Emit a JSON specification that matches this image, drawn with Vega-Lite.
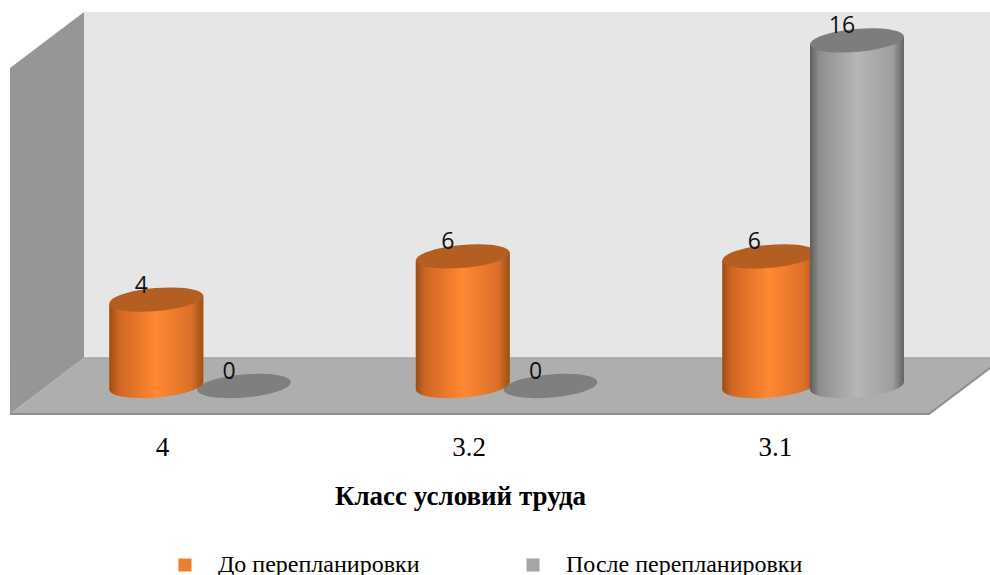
{
"$schema":"https://vega.github.io/schema/vega-lite/v6.json",
"width":990,"height":575,"padding":0,"autosize":{"type":"none"},
"background":"#ffffff",
"config":{"view":{"stroke":null}},
"datasets":{
"rows":[
{"cls":"4","slot":1,"series":"До перепланировки","value":4},
{"cls":"4","slot":1,"series":"После перепланировки","value":0},
{"cls":"3.2","slot":2,"series":"До перепланировки","value":6},
{"cls":"3.2","slot":2,"series":"После перепланировки","value":0},
{"cls":"3.1","slot":3,"series":"До перепланировки","value":6},
{"cls":"3.1","slot":3,"series":"После перепланировки","value":16}
],
"walls":[
{"part":"back","u":0.7455,"v":17.315,"v0":1.296},
{"part":"back","u":3.7015,"v":17.315,"v0":1.296},
{"part":"side","u":0.5041,"v":14.722,"v0":-1.296},
{"part":"side","u":0.7455,"v":17.315,"v0":1.296},
{"part":"floor","u":0.5041,"v":-1.296,"v0":-1.296},
{"part":"floor","u":0.7455,"v":1.296,"v0":-1.296},
{"part":"floor","u":3.5024,"v":1.296,"v0":-1.296},
{"part":"floor","u":3.7015,"v":1.296,"v0":0.833},
{"part":"edge","u":0.5041,"v":-1.296,"v0":-1.296},
{"part":"edge","u":3.5024,"v":-1.296,"v0":-1.296},
{"part":"edge","u":3.7015,"v":0.833,"v0":0.833},
{"part":"rear","u":0.7455,"v":1.296,"v0":1.296},
{"part":"rear","u":3.7015,"v":1.296,"v0":1.296}
]
},
"layer":[
{"data":{"name":"walls"},"transform":[{"filter":"datum.part=='back'"}],
 "mark":{"type":"area","fill":"#e6e6e6"},
 "encoding":{
  "x":{"field":"u","type":"quantitative","scale":{"domain":[0.4714,3.7015],"nice":false,"zero":false},
   "axis":{"values":[1,2,3],"labelExpr":"datum.value==1?'4':datum.value==2?'3.2':'3.1'","orient":"bottom","offset":-149,"domain":false,"ticks":false,"grid":false,"labelFont":"Liberation Serif","labelFontSize":27,"labelColor":"#000000","labelPadding":8,"title":"Класс условий труда","titleFont":"Liberation Serif","titleFontSize":27,"titleFontWeight":"bold","titleColor":"#000000","titleX":460,"titleY":70,"titleBaseline":"middle"}},
  "y":{"field":"v","type":"quantitative","scale":{"domain":[-8.75,17.87],"nice":false,"zero":false},"axis":null},
  "y2":{"field":"v0"}}},
{"data":{"name":"walls"},"transform":[{"filter":"datum.part=='side'"}],
 "mark":{"type":"area","fill":"#969696"},
 "encoding":{"x":{"field":"u","type":"quantitative"},"y":{"field":"v","type":"quantitative"},"y2":{"field":"v0"}}},
{"data":{"name":"walls"},"transform":[{"filter":"datum.part=='floor'"}],
 "mark":{"type":"area","fill":"#aeaeae"},
 "encoding":{"x":{"field":"u","type":"quantitative"},"y":{"field":"v","type":"quantitative"},"y2":{"field":"v0"}}},
{"data":{"name":"walls"},"transform":[{"filter":"datum.part=='edge'"}],
 "mark":{"type":"line","stroke":"#8f8f8f","strokeWidth":2},
 "encoding":{"x":{"field":"u","type":"quantitative"},"y":{"field":"v","type":"quantitative"}}},
{"data":{"name":"walls"},"transform":[{"filter":"datum.part=='rear'"}],
 "mark":{"type":"line","stroke":"#a3a3a3","strokeWidth":1.5},
 "encoding":{"x":{"field":"u","type":"quantitative"},"y":{"field":"v","type":"quantitative"}}},
{"data":{"name":"rows"},"transform":[{"filter":"datum.value==0"},{"calculate":"datum.slot+0.2675","as":"cx"}],
 "mark":{"type":"point","filled":true,"fill":"#7f7f7f","stroke":null,"opacity":1,"size":8836,"shape":"M-0.9962 0.0872C-1.008 -0.0476 -0.5716 -0.196 -0.0214 -0.2441C0.5288 -0.2922 0.9844 -0.222 0.9962 -0.0872C1.008 0.0476 0.5716 0.196 0.0214 0.2441C-0.5288 0.2922 -0.9844 0.222 -0.9962 0.0872Z"},
 "encoding":{"x":{"field":"cx","type":"quantitative"},"y":{"field":"value","type":"quantitative"}}},
{"data":{"name":"rows"},"transform":[{"filter":"datum.value>0"},{"calculate":"datum.slot+(datum.series=='До перепланировки'?-0.0186:0.2675)","as":"cx"},{"calculate":"[-1,1]","as":"side"},{"flatten":["side"]},{"calculate":"datum.cx+datum.side*0.1533","as":"ex"},{"calculate":"datum.value+datum.side*0.19","as":"top"},{"calculate":"datum.side*0.19","as":"base"}],
 "mark":{"type":"area"},
 "encoding":{"x":{"field":"ex","type":"quantitative"},"y":{"field":"top","type":"quantitative"},"y2":{"field":"base"},"detail":{"field":"slot"},
  "color":{"field":"series","type":"nominal","scale":{"domain":["До перепланировки","После перепланировки"],"range":["#ed7d31","#a5a5a5"]},
   "legend":{"title":null,"orient":"none","legendX":173,"legendY":553,"direction":"horizontal","columns":2,"columnPadding":101,"symbolType":"square","symbolSize":170,"symbolOpacity":1,"symbolStrokeWidth":0,"labelFont":"Liberation Serif","labelFontSize":24,"labelColor":"#000000","labelOffset":21,"labelLimit":400}}}},
{"data":{"name":"rows"},"transform":[{"filter":"datum.value>0 && datum.series=='До перепланировки'"},{"calculate":"datum.slot-0.0186","as":"cx"}],
 "mark":{"type":"point","filled":true,"stroke":null,"opacity":1,"size":8836,"fill":{"gradient":"linear","x1":0,"y1":0,"x2":1,"y2":0,"stops":[{"offset":0,"color":"#9c4e16"},{"offset":0.1,"color":"#cf6722"},{"offset":0.5,"color":"#ff8833"},{"offset":0.88,"color":"#d96f28"},{"offset":1,"color":"#9a5018"}]},"shape":"M-0.9962 0.0872C-1.008 -0.0476 -0.5716 -0.196 -0.0214 -0.2441C0.5288 -0.2922 0.9844 -0.222 0.9962 -0.0872C1.008 0.0476 0.5716 0.196 0.0214 0.2441C-0.5288 0.2922 -0.9844 0.222 -0.9962 0.0872Z"},
 "encoding":{"x":{"field":"cx","type":"quantitative"},"y":{"datum":0,"type":"quantitative"}}},
{"data":{"name":"rows"},"transform":[{"filter":"datum.value>0 && datum.series=='До перепланировки'"},{"calculate":"datum.slot-0.0186","as":"cx"},{"calculate":"[-1,1]","as":"side"},{"flatten":["side"]},{"calculate":"datum.cx+datum.side*0.1533","as":"ex"},{"calculate":"datum.value+datum.side*0.19","as":"top"},{"calculate":"datum.side*0.19","as":"base"}],
 "mark":{"type":"area","fill":{"gradient":"linear","x1":0,"y1":0,"x2":1,"y2":0,"stops":[{"offset":0,"color":"#9c4e16"},{"offset":0.1,"color":"#cf6722"},{"offset":0.5,"color":"#ff8833"},{"offset":0.88,"color":"#d96f28"},{"offset":1,"color":"#9a5018"}]}},
 "encoding":{"x":{"field":"ex","type":"quantitative"},"y":{"field":"top","type":"quantitative"},"y2":{"field":"base"},"detail":{"field":"slot"}}},
{"data":{"name":"rows"},"transform":[{"filter":"datum.value>0 && datum.series=='До перепланировки'"},{"calculate":"datum.slot-0.0186","as":"cx"}],
 "mark":{"type":"point","filled":true,"stroke":null,"opacity":1,"size":8836,"fill":"#b55e22","shape":"M-0.9962 0.0872C-1.008 -0.0476 -0.5716 -0.196 -0.0214 -0.2441C0.5288 -0.2922 0.9844 -0.222 0.9962 -0.0872C1.008 0.0476 0.5716 0.196 0.0214 0.2441C-0.5288 0.2922 -0.9844 0.222 -0.9962 0.0872Z"},
 "encoding":{"x":{"field":"cx","type":"quantitative"},"y":{"field":"value","type":"quantitative"}}},
{"data":{"name":"rows"},"transform":[{"filter":"datum.value>0 && datum.series=='После перепланировки'"},{"calculate":"datum.slot+0.2675","as":"cx"}],
 "mark":{"type":"point","filled":true,"stroke":null,"opacity":1,"size":8836,"fill":{"gradient":"linear","x1":0,"y1":0,"x2":1,"y2":0,"stops":[{"offset":0,"color":"#5e5e5e"},{"offset":0.1,"color":"#8e8e8e"},{"offset":0.5,"color":"#b6b6b6"},{"offset":0.88,"color":"#9e9e9e"},{"offset":1,"color":"#636363"}]},"shape":"M-0.9962 0.0872C-1.008 -0.0476 -0.5716 -0.196 -0.0214 -0.2441C0.5288 -0.2922 0.9844 -0.222 0.9962 -0.0872C1.008 0.0476 0.5716 0.196 0.0214 0.2441C-0.5288 0.2922 -0.9844 0.222 -0.9962 0.0872Z"},
 "encoding":{"x":{"field":"cx","type":"quantitative"},"y":{"datum":0,"type":"quantitative"}}},
{"data":{"name":"rows"},"transform":[{"filter":"datum.value>0 && datum.series=='После перепланировки'"},{"calculate":"datum.slot+0.2675","as":"cx"},{"calculate":"[-1,1]","as":"side"},{"flatten":["side"]},{"calculate":"datum.cx+datum.side*0.1533","as":"ex"},{"calculate":"datum.value+datum.side*0.19","as":"top"},{"calculate":"datum.side*0.19","as":"base"}],
 "mark":{"type":"area","fill":{"gradient":"linear","x1":0,"y1":0,"x2":1,"y2":0,"stops":[{"offset":0,"color":"#5e5e5e"},{"offset":0.1,"color":"#8e8e8e"},{"offset":0.5,"color":"#b6b6b6"},{"offset":0.88,"color":"#9e9e9e"},{"offset":1,"color":"#636363"}]}},
 "encoding":{"x":{"field":"ex","type":"quantitative"},"y":{"field":"top","type":"quantitative"},"y2":{"field":"base"},"detail":{"field":"slot"}}},
{"data":{"name":"rows"},"transform":[{"filter":"datum.value>0 && datum.series=='После перепланировки'"},{"calculate":"datum.slot+0.2675","as":"cx"}],
 "mark":{"type":"point","filled":true,"stroke":null,"opacity":1,"size":8836,"fill":"#7d7d7d","shape":"M-0.9962 0.0872C-1.008 -0.0476 -0.5716 -0.196 -0.0214 -0.2441C0.5288 -0.2922 0.9844 -0.222 0.9962 -0.0872C1.008 0.0476 0.5716 0.196 0.0214 0.2441C-0.5288 0.2922 -0.9844 0.222 -0.9962 0.0872Z"},
 "encoding":{"x":{"field":"cx","type":"quantitative"},"y":{"field":"value","type":"quantitative"}}},
{"data":{"name":"rows"},"transform":[{"calculate":"datum.slot+(datum.series=='До перепланировки'?-0.0186:0.2675)","as":"cx"}],
 "mark":{"type":"text","font":"Open Sans","fontSize":23,"color":"#111111","dx":-15,"dy":-7,"baseline":"alphabetic","align":"center"},
 "encoding":{"x":{"field":"cx","type":"quantitative"},"y":{"field":"value","type":"quantitative"},"text":{"field":"value","type":"quantitative"}}}
]
}
